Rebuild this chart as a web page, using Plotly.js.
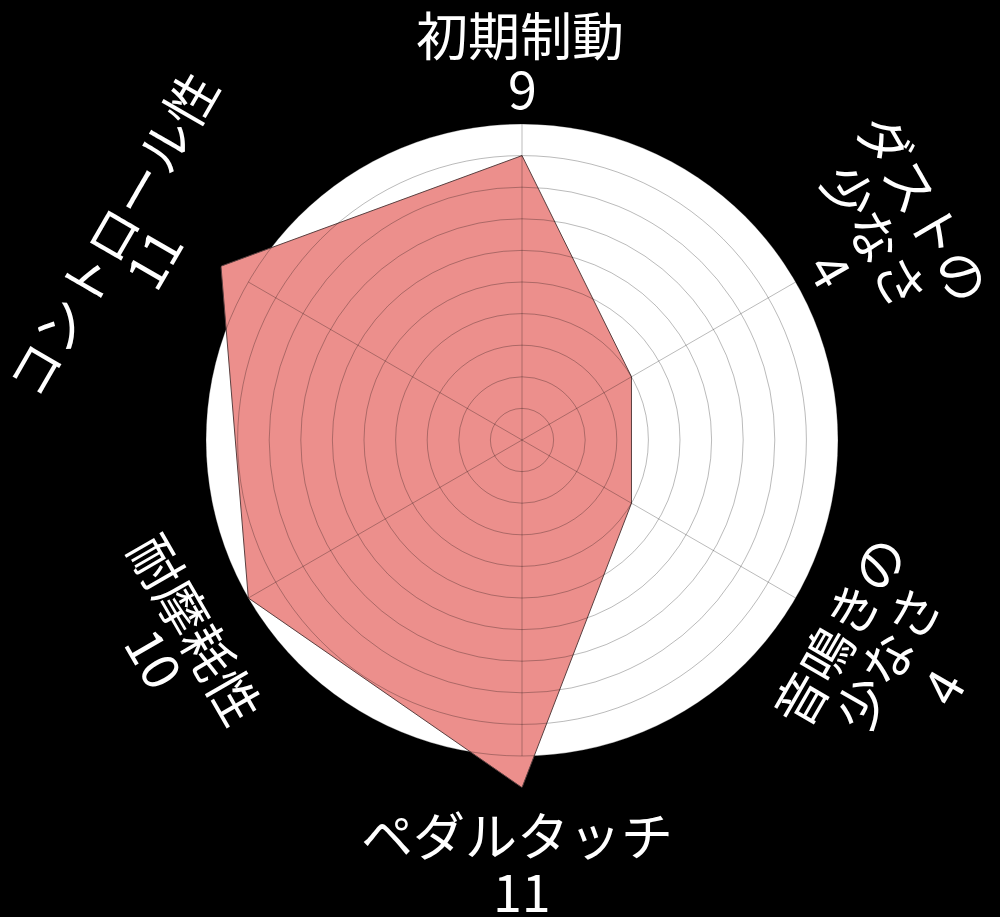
<!DOCTYPE html>
<html>
<head>
<meta charset="utf-8">
<script src="https://cdn.plot.ly/plotly-3.0.1.min.js"></script>
<style>
  html, body { margin: 0; padding: 0; background: #000; }
  #chart { width: 1000px; height: 917px; }
</style>
</head>
<body>
<div id="chart"></div>
<script>
// categories and scores
const categories = ['初期制動', 'ダストの少なさ', '音鳴きの少なさ', 'ペダルタッチ', '耐摩耗性', 'コントロール性'];
const scores = [9, 4, 4, 11, 10, 11];
// how each label is broken into lines (the score goes on the last line)
const labelLines = [
  ['初期制動'],
  ['ダストの', '少なさ'],
  ['音鳴きの', '少なさ'],
  ['ペダルタッチ'],
  ['耐摩耗性'],
  ['コントロール性']
];
const gridMax = 10;   // the white disc ends at 10
const dataMax = 11;   // polygon pokes out past the disc

// label layout: pixel centre of every line and the angle of the text
const W = 1000, H = 917;
const cx = 522, cy = 440, rad = 316;   // centre / radius of the disc in px
const labelPos = [
  { angle: 0,   lines: [[520, 34], [522, 86]] },
  { angle: 60,  lines: [[925, 207], [877, 235], [833, 268]] },
  { angle: -60, lines: [[837, 630], [885, 657], [940, 686]] },
  { angle: 0,   lines: [[517, 833], [522, 889]] },
  { angle: 60,  lines: [[198, 628], [157, 657]] },
  { angle: -60, lines: [[110, 233], [152, 258]] }
];
const gridCol = 'rgba(0,0,0,0.27)';

let annotations = [];
categories.forEach(function(cat, i) {
  let texts = labelLines[i].concat([String(scores[i])]);
  texts.forEach(function(t, j) {
    let p = labelPos[i].lines[j];
    annotations.push({
      text: t,
      x: p[0] / W, y: 1 - p[1] / H,
      xref: 'paper', yref: 'paper',
      xanchor: 'center', yanchor: 'middle',
      textangle: labelPos[i].angle,
      showarrow: false,
      font: { family: 'Noto Sans CJK JP', size: 52, color: '#fff' }
    });
  });
});

// domain for a disc of radius r px around the centre
function domainFor(r) {
  return {
    x: [(cx - r) / W, (cx + r) / W],
    y: [1 - (cy + r) / H, 1 - (cy - r) / H]
  };
}

// close the polygon
let r = scores.concat([scores[0]]);
let theta = categories.concat([categories[0]]);

let radar = {
  type: 'scatterpolar',
  subplot: 'polar2',
  r: r,
  theta: theta,
  mode: 'lines',
  fill: 'toself',
  fillcolor: '#ec8f8c',
  line: { color: '#5a4040', width: 1 },
  hoverinfo: 'skip',
  showlegend: false
};
// empty helpers so the other two polars know the categories
let bgDummy = { type: 'scatterpolar', subplot: 'polar', r: scores, theta: categories, mode: 'none', hoverinfo: 'skip', showlegend: false };
let gridDummy = { type: 'scatterpolar', subplot: 'polar3', r: scores, theta: categories, mode: 'none', hoverinfo: 'skip', showlegend: false };

function angular(showGrid) {
  return {
    type: 'category',
    categoryarray: categories,
    rotation: 90,
    direction: 'clockwise',
    showticklabels: false,
    ticks: '',
    showline: showGrid,
    linecolor: gridCol,
    showgrid: showGrid,
    gridcolor: gridCol,
    gridwidth: 1
  };
}
function radial(max, showGrid) {
  return {
    range: [0, max],
    dtick: 1,
    showticklabels: false,
    ticks: '',
    showline: false,
    showgrid: showGrid,
    gridcolor: gridCol,
    gridwidth: 1
  };
}

let layout = {
  width: W,
  height: H,
  margin: { l: 0, r: 0, t: 0, b: 0, pad: 0 },
  paper_bgcolor: '#000',
  plot_bgcolor: '#000',
  // white disc
  polar: {
    domain: domainFor(rad),
    bgcolor: '#fff',
    radialaxis: radial(gridMax, false),
    angularaxis: angular(false)
  },
  // the filled polygon, scaled so 11 reaches past the disc
  polar2: {
    domain: domainFor(rad * dataMax / gridMax),
    bgcolor: 'rgba(0,0,0,0)',
    radialaxis: radial(dataMax, false),
    angularaxis: angular(false)
  },
  // grid drawn on top of the fill
  polar3: {
    domain: domainFor(rad),
    bgcolor: 'rgba(0,0,0,0)',
    radialaxis: radial(gridMax, true),
    angularaxis: angular(true)
  },
  annotations: annotations
};

Plotly.newPlot('chart', [bgDummy, radar, gridDummy], layout, { staticPlot: true });
</script>
</body>
</html>
